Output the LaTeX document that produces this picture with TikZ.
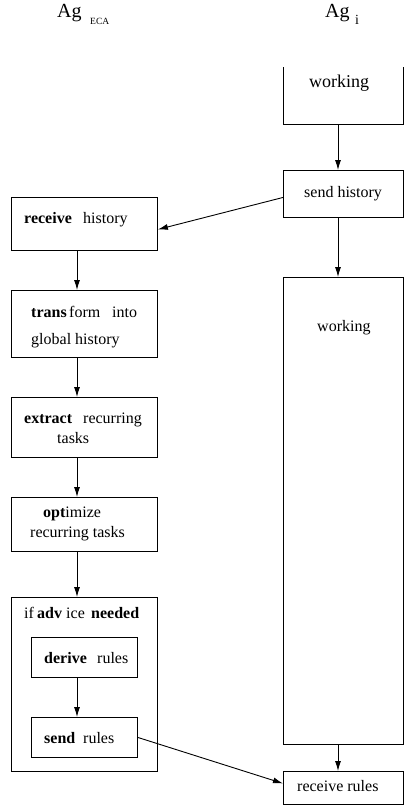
\documentclass[tikz,border=0pt]{standalone}
\usepackage{fontspec}
\setmainfont{Liberation Serif}
\usetikzlibrary{arrows.meta}
\begin{document}
\begin{tikzpicture}[x=1pt,y=-1pt,
  box/.style={draw, line width=0.9pt, anchor=north west, inner sep=0pt, minimum width=#1},
  lbl/.style={anchor=base west, inner sep=0pt, font=\fontsize{16}{19}\selectfont},
  arr/.style={line width=0.9pt, -{Latex[length=10pt,width=6pt]}}]
\useasboundingbox (0,0) rectangle (404,809);
% titles
\node[anchor=base west, inner sep=0pt, font=\fontsize{20}{24}\selectfont] (t1) at (57,17.5) {Ag};
\node[anchor=base west, inner sep=0pt, font=\fontsize{9.5}{11}\selectfont] (t1s) at (90,24) {ECA};
\node[anchor=base west, inner sep=0pt, font=\fontsize{20}{24}\selectfont] (t2) at (325,17.5) {Ag};
\node[anchor=base west, inner sep=0pt, font=\fontsize{14}{16}\selectfont] (t2s) at (355,24) {i};
% right column
\draw[line width=0.9pt] (283,67) -- (283,124) -- (403,124) -- (403,67);
\coordinate (w1) at (338,124);
\node[lbl, font=\fontsize{18}{21}\selectfont] (w1t) at (309,87) {working};
\node[box=120pt, minimum height=47pt] (sh) at (283,170) {};
\node[lbl] (sht) at (304,197) {send history};
\node[box=120pt, minimum height=467pt] (w2) at (283,277) {};
\node[lbl] (w2t) at (317,331) {working};
\node[box=120pt, minimum height=33pt] (rr) at (283,771) {};
\node[lbl] (rrt) at (297,791) {receive rules};
% left column
\node[box=146pt, minimum height=53pt] (rh) at (11,197) {};
\node[lbl] (rh1) at (24,223) {\textbf{receive}};
\node[lbl] (rh2) at (83,223) {history};
\node[box=146pt, minimum height=67pt] (tr) at (11,290) {};
\node[lbl] (tr1) at (31,317) {\textbf{trans}};
\node[lbl] (tr2) at (69,317) {form};
\node[lbl] (tr3) at (112,317) {into};
\node[lbl] (tr4) at (31,344) {global history};
\node[box=146pt, minimum height=60pt] (ex) at (11,397) {};
\node[lbl] (ex1) at (24,423) {\textbf{extract}};
\node[lbl] (ex2) at (83,423) {recurring};
\node[lbl] (ex3) at (57,443) {tasks};
\node[box=146pt, minimum height=54pt] (op) at (11,497) {};
\node[lbl] (op1) at (43,517) {\textbf{opt}imize};
\node[lbl] (op2) at (30,537) {recurring tasks};
\node[box=146pt, minimum height=174pt] (ad) at (11,597) {};
\node[lbl] (ad1) at (24,618) {if};
\node[lbl] (ad2) at (37,618) {\textbf{adv}};
\node[lbl] (ad3) at (66,618) {ice};
\node[lbl] (ad4) at (91,618) {\textbf{needed}};
\node[box=106pt, minimum height=40pt] (de) at (31,637) {};
\node[lbl] (de1) at (44,663) {\textbf{derive}};
\node[lbl] (de2) at (97,663) {rules};
\node[box=106pt, minimum height=40pt] (sr) at (31,717) {};
\node[lbl] (sr1) at (44,743) {\textbf{send}};
\node[lbl] (sr2) at (83,743) {rules};
% arrows
\draw[arr] (w1) -- ([xshift=55pt]sh.north west);
\draw[arr] ([xshift=55pt]sh.south west) -- ([xshift=55pt]w2.north west);
\draw[arr] ([xshift=55pt]w2.south west) -- ([xshift=55pt]rr.north west);
\draw[arr] ([yshift=-3.5pt]sh.west) -- ([yshift=-5.5pt]rh.east);
\draw[arr] ([xshift=66pt]rh.south west) -- ([xshift=66pt]tr.north west);
\draw[arr] ([xshift=66pt]tr.south west) -- ([xshift=66pt]ex.north west);
\draw[arr] ([xshift=66pt]ex.south west) -- ([xshift=66pt]op.north west);
\draw[arr] ([xshift=66pt]op.south west) -- ([xshift=66pt]ad.north west);
\draw[arr] ([xshift=46pt]de.south west) -- ([xshift=46pt]sr.north west);
\draw[arr] (sr.east) -- ([yshift=4.5pt]rr.west);
\end{tikzpicture}
\end{document}
